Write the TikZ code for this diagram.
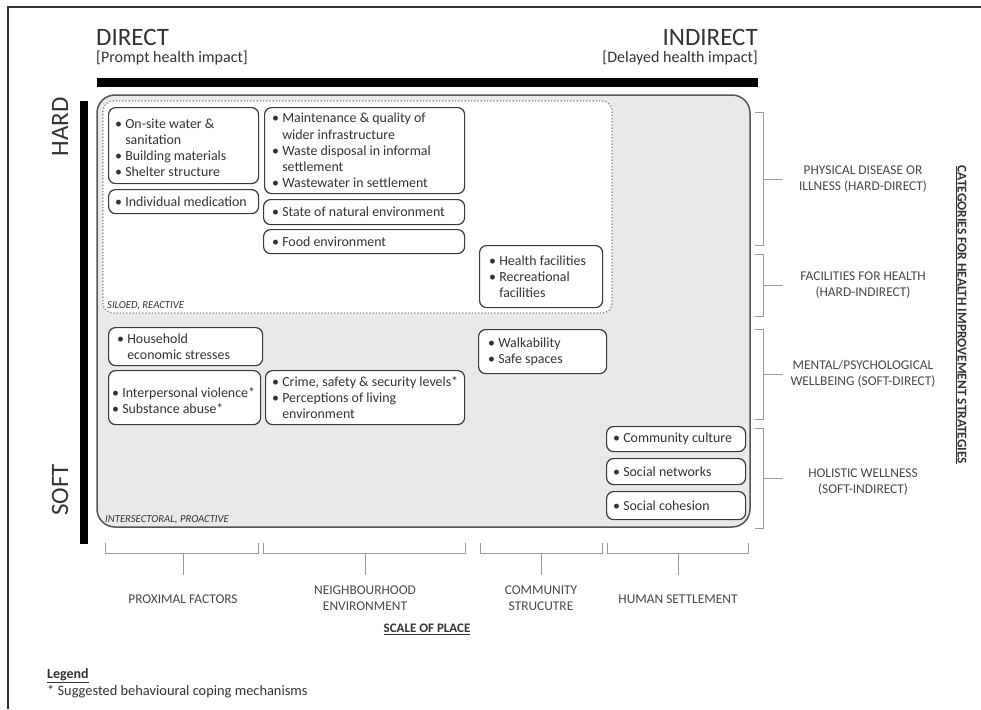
\documentclass[tikz,border=0pt]{standalone}
\usepackage{fontspec}
\setmainfont{Carlito}
\definecolor{boxc}{HTML}{3A3A3A}
\definecolor{txt}{HTML}{333333}
\definecolor{lbl}{HTML}{474747}
\definecolor{bgfill}{HTML}{E9E9E9}
\definecolor{outerc}{HTML}{555555}
\definecolor{dotc}{HTML}{808080}
\definecolor{brkc}{HTML}{9A9A9A}
\definecolor{framec}{HTML}{333333}
\newcommand{\bu}{\textbullet\ }
\newcommand{\ind}{\phantom{\textbullet\ }}
\begin{document}
\begin{tikzpicture}[x=1pt,y=-1pt,
  box/.style={draw=boxc, line width=1.2pt, fill=white, rounded corners=7pt, anchor=north west, inner sep=0pt},
  btxt/.style={anchor=west, align=left, inner sep=0pt, font=\fontsize{13.9}{16.2}\selectfont, text=txt},
  brk/.style={draw=brkc, line width=0.9pt},
  lab/.style={font=\fontsize{13.4}{16}\selectfont, text=lbl, align=center},
  corner/.style={font=\fontsize{10.7}{12}\selectfont\itshape, text=txt, anchor=west, inner sep=0pt},
  big/.style={font=\fontsize{25}{28}\selectfont, text=txt, inner sep=0pt},
  sub/.style={font=\fontsize{16}{18}\selectfont, text=txt, inner sep=0pt}]
\useasboundingbox (0,0) rectangle (981,709);
% frame
\draw[line width=2pt, framec] (8,709) -- (8,7) -- (981,7);
% headers
\node[big, anchor=south west] (direct) at (96,46) {DIRECT};
\node[sub, anchor=west] (prompt) at (96,58) {[Prompt health impact]};
\node[big, anchor=south east] (indirect) at (758,46) {INDIRECT};
\node[sub, anchor=east] (delayed) at (758,58) {[Delayed health impact]};
\fill[black] (97,78) rectangle (758,87);
\fill[black] (80,101) rectangle (88,544);
\node[big, rotate=90] (hard) at (60,127) {HARD};
\node[big, rotate=90] (soft) at (60,490) {SOFT};
% outer gray area
\draw[outerc, line width=1.5pt, fill=bgfill, rounded corners=18pt] (97,95) rectangle (750,527);
\draw[dotc, line width=1.2pt, dotted, fill=white, rounded corners=10pt] (103,101) rectangle (612,313);
\node[corner] (siloed) at (107,306) {SILOED, REACTIVE};
\node[corner] (inter) at (105,520) {INTERSECTORAL, PROACTIVE};
% boxes
\node[box, minimum width=150pt, minimum height=76pt] (b1) at (108,107) {};
\node[btxt] (t1) at ([xshift=7pt,yshift=-2pt]b1.west)
  {\bu On-site water \&\\ \ind sanitation\\ \bu Building materials\\ \bu Shelter structure};
\node[box, minimum width=150pt, minimum height=24pt] (b2) at (108,189) {};
\node[btxt] (t2) at ([xshift=7pt]b2.west) {\bu Individual medication};
\node[box, minimum width=200pt, minimum height=86pt] (b3) at (264,107) {};
\node[btxt] (t3) at ([xshift=8pt]b3.west)
  {\bu Maintenance \& quality of\\ \ind wider infrastructure\\ \bu Waste disposal in informal\\ \ind settlement\\ \bu Wastewater in settlement};
\node[box, minimum width=201pt, minimum height=25pt] (b4) at (263,199) {};
\node[btxt] (t4) at ([xshift=9pt]b4.west) {\bu State of natural environment};
\node[box, minimum width=201pt, minimum height=24pt] (b5) at (263,229) {};
\node[btxt] (t5) at ([xshift=9pt]b5.west) {\bu Food environment};
\node[box, minimum width=123pt, minimum height=62pt] (b6) at (479,245) {};
\node[btxt] (t6) at ([xshift=10pt]b6.west) {\bu Health facilities\\ \bu Recreational\\ \ind facilities};
\node[box, minimum width=154pt, minimum height=38pt] (b7) at (108,327) {};
\node[btxt] (t7) at ([xshift=9pt]b7.west) {\bu Household\\ \ind economic stresses};
\node[box, minimum width=152pt, minimum height=54pt] (b8) at (108,370) {};
\node[btxt] (t8) at ([xshift=4pt,yshift=-3pt]b8.west) {\bu Interpersonal violence*\\ \bu Substance abuse*};
\node[box, minimum width=199pt, minimum height=54pt] (b9) at (265,370) {};
\node[btxt] (t9) at ([xshift=7pt]b9.west)
  {\bu Crime, safety \& security levels*\\ \bu Perceptions of living\\ \ind environment};
\node[box, minimum width=128pt, minimum height=44pt] (b10) at (478,329) {};
\node[btxt] (t10) at ([xshift=10pt]b10.west) {\bu Walkability\\ \bu Safe spaces};
\node[box, minimum width=139pt, minimum height=25pt] (b11) at (606,426) {};
\node[btxt] (t11) at ([xshift=7pt]b11.west) {\bu Community culture};
\node[box, minimum width=139pt, minimum height=26pt] (b12) at (606,458) {};
\node[btxt] (t12) at ([xshift=7pt]b12.west) {\bu Social networks};
\node[box, minimum width=139pt, minimum height=28pt] (b13) at (606,491) {};
\node[btxt] (t13) at ([xshift=7pt]b13.west) {\bu Social cohesion};
% right brackets
\draw[brk] (755,112) -- (763,112) -- (763,245) -- (755,245) (763,179) -- (783,179);
\draw[brk] (755,254) -- (763,254) -- (763,316) -- (755,316) (763,285) -- (783,285);
\draw[brk] (755,329) -- (763,329) -- (763,419) -- (755,419) (763,374) -- (783,374);
\draw[brk] (755,428) -- (763,428) -- (763,528) -- (755,528) (763,478) -- (783,478);
\node[lab] (cat1) at (863,179) {PHYSICAL DISEASE OR\\ILLNESS (HARD-DIRECT)};
\node[lab] (cat2) at (863,285) {FACILITIES FOR HEALTH\\(HARD-INDIRECT)};
\node[lab] (cat3) at (863,374) {MENTAL/PSYCHOLOGICAL\\WELLBEING (SOFT-DIRECT)};
\node[lab] (cat4) at (863,482) {HOLISTIC WELLNESS\\(SOFT-INDIRECT)};
\node[font=\fontsize{13.4}{14}\selectfont\bfseries, text=txt, rotate=-90] (cats) at (961,315)
  {\underline{CATEGORIES FOR HEALTH IMPROVEMENT STRATEGIES}};
% bottom brackets
\draw[brk] (105,543) -- (105,553) -- (258,553) -- (258,543) (183,553) -- (183,575);
\draw[brk] (263,543) -- (263,553) -- (465,553) -- (465,543) (365,553) -- (365,575);
\draw[brk] (480,543) -- (480,553) -- (602,553) -- (602,543) (541,553) -- (541,575);
\draw[brk] (607,543) -- (607,553) -- (748,553) -- (748,543) (678,553) -- (678,575);
\node[lab] (s1) at (183,599) {PROXIMAL FACTORS};
\node[lab] (s2) at (365,598) {NEIGHBOURHOOD\\ENVIRONMENT};
\node[lab] (s3) at (541,598) {COMMUNITY\\STRUCUTRE};
\node[lab] (s4) at (678,599) {HUMAN SETTLEMENT};
\node[font=\fontsize{13}{14}\selectfont\bfseries, text=txt] (scale) at (427,629) {\underline{SCALE OF PLACE}};
% legend
\node[font=\fontsize{14}{16}\selectfont\bfseries, text=txt, anchor=west, inner sep=0pt] (legend) at (47,676) {\underline{Legend}};
\node[font=\fontsize{14.4}{16}\selectfont, text=txt, anchor=west, inner sep=0pt] (legtxt) at (47,692) {* Suggested behavioural coping mechanisms};
\end{tikzpicture}
\end{document}
